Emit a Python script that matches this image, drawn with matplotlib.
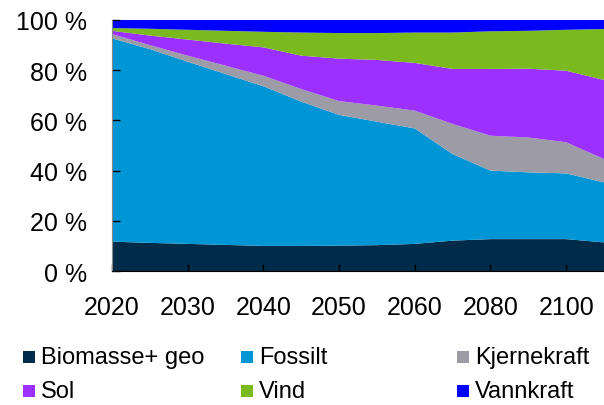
import matplotlib
matplotlib.use("Agg")
from matplotlib import pyplot as plt
from matplotlib.patches import Rectangle

plt.rcParams['font.family'] = ['Liberation Sans', 'DejaVu Sans']

# categories on the x axis (uneven steps, drawn as a category axis)
years = [2020, 2025, 2030, 2035, 2040, 2045, 2050, 2055, 2060, 2070, 2080, 2090, 2100, 2110]

# shares in percent
biomasse = [11.7, 11.2, 10.8, 10.4, 10.0, 10.0, 10.1, 10.3, 10.8, 12.1, 12.7, 12.7, 12.7, 11.4]
fossilt = [81.0, 77.2, 72.6, 68.1, 63.6, 57.5, 52.1, 49.2, 46.0, 34.5, 27.3, 26.6, 26.2, 23.9]
kjernekraft = [1.7, 1.6, 2.4, 3.3, 4.2, 5.0, 5.5, 6.4, 7.1, 12.0, 13.9, 13.9, 12.4, 9.3]
sol = [1.3, 3.8, 6.4, 8.8, 11.3, 13.3, 16.9, 18.2, 19.0, 21.9, 26.6, 27.4, 28.5, 31.5]
vind = [1.1, 2.7, 3.9, 5.1, 6.2, 9.2, 10.2, 10.7, 12.1, 14.5, 15.0, 15.1, 16.3, 20.3]
vannkraft = [3.2, 3.5, 3.9, 4.3, 4.7, 5.0, 5.2, 5.2, 5.0, 5.0, 4.5, 4.3, 3.9, 3.6]

labels = ["Biomasse+ geo", "Fossilt", "Kjernekraft", "Sol", "Vind", "Vannkraft"]
colors = ["#002b49", "#0096d6", "#9c9ba6", "#9b30ff", "#7aba1e", "#0000ff"]

fig = plt.figure(figsize=(6.04, 4.06), dpi=100)
ax = fig.add_axes([112 / 604, 134 / 406, 492 / 604, 251 / 406])

x = list(range(len(years)))
ax.stackplot(x, biomasse, fossilt, kjernekraft, sol, vind, vannkraft,
             colors=colors, linewidth=0)

ax.set_xlim(0, len(years) - 1)
ax.set_ylim(0, 100)
ax.set_xticks(x[::2])
ax.set_xticklabels([str(y) for y in years[::2]])
ax.set_yticks([0, 20, 40, 60, 80, 100])
ax.set_yticklabels(["%d %%" % v for v in [0, 20, 40, 60, 80, 100]])

ax.tick_params(axis='x', direction='in', length=5, width=1, pad=17, labelsize=18)
ax.tick_params(axis='y', direction='in', length=6, width=1, pad=18, labelsize=18)
ax.spines['top'].set_visible(False)
ax.spines['right'].set_visible(False)
ax.spines['left'].set_color('#888888')
ax.spines['bottom'].set_color('black')

# legend drawn by hand: 3 columns, 2 rows
col_x = [23, 241, 457]
row_y = [358, 392]
for i, (lab, col) in enumerate(zip(labels, colors)):
    cx = col_x[i % 3]
    cy = row_y[i // 3]
    fig.patches.append(Rectangle((cx / 604, (406 - cy - 6) / 406), 12 / 604, 12 / 406,
                                 transform=fig.transFigure, facecolor=col, edgecolor='none'))
    fig.text((cx + 18) / 604, (406 - cy) / 406, lab, fontsize=17, va='center', ha='left')

fig.savefig("out.png", dpi=100)
